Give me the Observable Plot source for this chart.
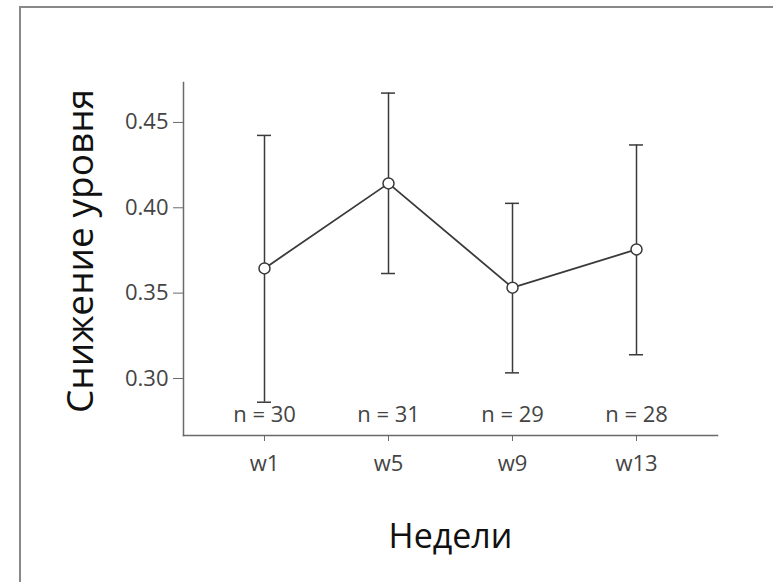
<!DOCTYPE html>
<html>
<head>
<meta charset="utf-8">
<script src="https://cdn.jsdelivr.net/npm/d3@7"></script>
<script src="https://cdn.jsdelivr.net/npm/@observablehq/plot@0.6"></script>
<style>
  html, body { margin: 0; padding: 0; background: #fff; }
  #wrap { position: relative; width: 773px; height: 582px; overflow: hidden; }
  #frame { position: absolute; left: 19px; top: 6px; right: -4px; bottom: -4px;
           border-left: 2px solid #888; border-top: 2px solid #888; pointer-events: none; }
</style>
</head>
<body>
<div id="wrap"><div id="frame"></div></div>
<script>
const weeks = ["w1", "w5", "w9", "w13"];
const means = [0.3645, 0.4143, 0.3532, 0.3756];
const lower = [0.2861, 0.3615, 0.3033, 0.3139];
const upper = [0.4424, 0.4672, 0.4026, 0.4368];
const counts = [30, 31, 29, 28];
const yTicks = [0.30, 0.35, 0.40, 0.45];
const xLabel = "Недели";
const yLabel = "Снижение уровня";

const data = weeks.map((w, i) => ({week: w, mean: means[i], lo: lower[i], hi: upper[i], n: counts[i]}));

const ink = "#3a3a3a";
const axisInk = "#6a6a6a";

const chart = Plot.plot({
  width: 773,
  height: 582,
  marginLeft: 183,
  marginRight: 56,
  marginTop: 82,
  marginBottom: 147,
  style: {fontFamily: "'Open Sans', sans-serif", background: "transparent", overflow: "visible"},
  x: {type: "band", domain: weeks, paddingInner: 0.888, paddingOuter: 0.5885},
  y: {domain: [0.2666, 0.4734]},
  marks: [
    Plot.frame({anchor: "left", stroke: axisInk, strokeWidth: 1.5}),
    Plot.frame({anchor: "bottom", stroke: axisInk, strokeWidth: 1.5}),
    Plot.axisY({ticks: yTicks, tickFormat: d3.format(".2f"), tickSize: 10, tickPadding: 5,
                fontSize: 22, color: "#444", stroke: axisInk, label: null}),
    Plot.axisX({tickSize: 6, tickPadding: 14, fontSize: 22, color: "#444", stroke: axisInk, label: null}),
    Plot.ruleX(data, {x: "week", y1: "lo", y2: "hi", stroke: ink, strokeWidth: 1.5}),
    Plot.tickY(data, {x: "week", y: "lo", stroke: ink, strokeWidth: 1.5}),
    Plot.tickY(data, {x: "week", y: "hi", stroke: ink, strokeWidth: 1.5}),
    Plot.line(data, {x: "week", y: "mean", stroke: ink, strokeWidth: 1.8}),
    Plot.dot(data, {x: "week", y: "mean", r: 5.5, fill: "white", stroke: ink, strokeWidth: 1.5}),
    Plot.text(data, {x: "week", text: d => `n = ${d.n}`, frameAnchor: "bottom", dy: -14,
                     fontSize: 22, fill: "#444"}),
    Plot.text([xLabel], {frameAnchor: "bottom", dy: 112, fontSize: 34, fill: "#111"}),
    Plot.text([yLabel], {frameAnchor: "left", textAnchor: "middle", dx: -102, dy: -8, rotate: -90,
                         fontSize: 37, fill: "#111"})
  ]
});
document.getElementById("wrap").prepend(chart);
</script>
</body>
</html>
